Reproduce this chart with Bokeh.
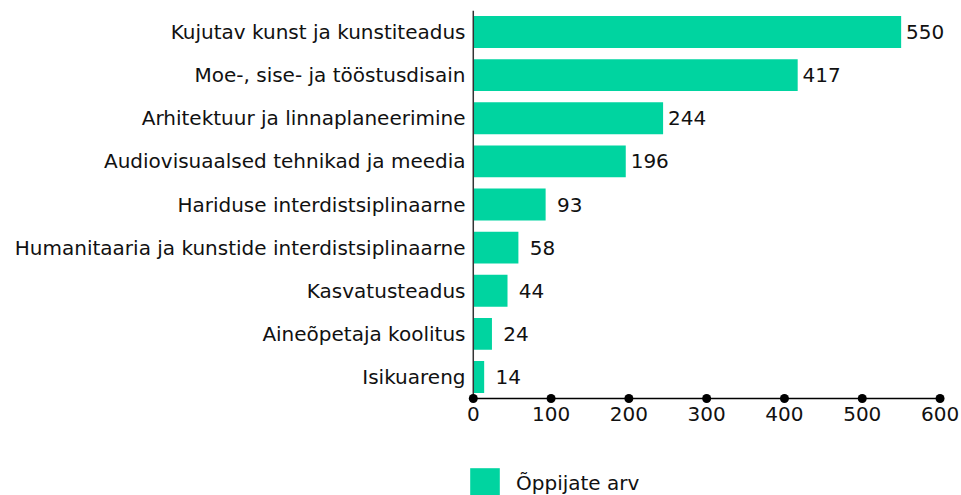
from bokeh.plotting import figure
from bokeh.models import Legend, LegendItem, Range1d, FixedTicker, ColumnDataSource
from bokeh.embed import file_html
from bokeh.resources import INLINE
from bokeh.core.properties import value

categories = [
    "Kujutav kunst ja kunstiteadus",
    "Moe-, sise- ja tööstusdisain",
    "Arhitektuur ja linnaplaneerimine",
    "Audiovisuaalsed tehnikad ja meedia",
    "Hariduse interdistsiplinaarne",
    "Humanitaaria ja kunstide interdistsiplinaarne",
    "Kasvatusteadus",
    "Aineõpetaja koolitus",
    "Isikuareng",
]
counts = [550, 417, 244, 196, 93, 58, 44, 24, 14]
x_ticks = [0, 100, 200, 300, 400, 500, 600]
series_name = "Õppijate arv"

FONT = "DejaVu Sans"
FS = "20px"
COLOR = "#00d4a0"
n = len(categories)
ypos = [n - 1 - i for i in range(n)]

p = figure(width=961, height=495, output_backend="svg", toolbar_location=None,
           x_range=Range1d(-10, 625), y_range=Range1d(-2.75, n - 0.5),
           min_border_left=465, min_border_right=2, min_border_top=10, min_border_bottom=0)
p.outline_line_color = None
p.grid.grid_line_color = None
p.background_fill_color = None
p.border_fill_color = "white"

src = ColumnDataSource(dict(y=ypos, v=counts, cat=categories, lab=[str(c) for c in counts]))
bars = p.hbar(y="y", right="v", left=0, height=0.74, source=src, fill_color=COLOR, line_color=None)
p.text(x="v", y="y", text="lab", source=src, x_offset=24, text_align="center", text_baseline="middle",
       text_font=value(FONT), text_font_size=FS, text_color="#111111")

# axes lines
p.segment(x0=[0], y0=[-0.5], x1=[0], y1=[n - 0.5], line_color="#333333", line_width=1.5)
p.segment(x0=[0], y0=[-0.5], x1=[600], y1=[-0.5], line_color="black", line_width=1.5)
p.scatter(x=x_ticks, y=[-0.5] * len(x_ticks), size=9, fill_color="black", line_color=None)

p.xaxis.fixed_location = -0.5
p.xaxis.ticker = FixedTicker(ticks=x_ticks)
p.xaxis.axis_line_color = None
p.xaxis.major_tick_line_color = None
p.xaxis.minor_tick_line_color = None
p.xaxis.major_label_text_font = FONT
p.xaxis.major_label_text_font_size = FS
p.xaxis.major_label_text_color = "#111111"
p.xaxis.major_label_standoff = 2

p.yaxis.ticker = FixedTicker(ticks=ypos)
p.yaxis.major_label_overrides = {yv: c for yv, c in zip(ypos, categories)}
p.yaxis.axis_line_color = None
p.yaxis.major_tick_line_color = None
p.yaxis.minor_tick_line_color = None
p.yaxis.major_label_text_font = FONT
p.yaxis.major_label_text_font_size = FS
p.yaxis.major_label_text_color = "#111111"
p.yaxis.major_label_standoff = -6

legend = Legend(items=[LegendItem(label=series_name, renderers=[bars])], location=(1, -6),
                glyph_width=37, glyph_height=37, padding=0, margin=0, label_standoff=13,
                border_line_color=None, background_fill_alpha=0,
                label_text_font=FONT, label_text_font_size=FS, label_text_color="#111111")
p.add_layout(legend, "center")

open("out.html", "w").write(file_html(p, INLINE))
